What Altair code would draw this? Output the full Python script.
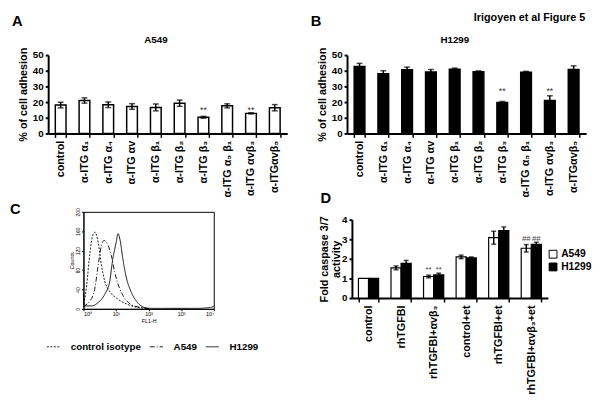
import altair as alt
import pandas as pd

FONT = "Liberation Sans"

# ---------------- Panels A / B : cell adhesion ----------------
conditions = ["control", "α-ITG α₁", "α-ITG α₄", "α-ITG αv", "α-ITG β₁",
              "α-ITG β₂", "α-ITG β₃", "α-ITG α₅ β₁", "α-ITG αvβ₃", "α-ITGαvβ₅"]
a549_adhesion = [18.1, 21.0, 18.3, 17.2, 16.6, 19.3, 10.3, 17.6, 12.8, 16.4]
a549_adhesion_err = [1.8, 1.7, 1.8, 1.8, 2.2, 2.0, 0.6, 1.3, 0.4, 2.0]
h1299_adhesion = [42.7, 38.1, 40.6, 39.2, 41.0, 39.4, 19.8, 39.0, 21.0, 40.8]
h1299_adhesion_err = [2.0, 1.9, 1.7, 1.6, 0.7, 0.5, 0.6, 0.6, 3.0, 2.3]
star_conditions = ["α-ITG β₃", "α-ITG αvβ₃"]
a549_star_y = [15.0, 15.0]
h1299_star_y = [27.0, 27.0]
adhesion_ticks = [0, 10, 20, 30, 40, 50]

# ---------------- Panel C : flow cytometry histograms ----------------
c_series = ["control isotype", "A549", "H1299"]
iso_fl = [1.0, 1.07, 1.26, 1.59, 1.91, 2.25, 2.83, 3.57, 4.5, 6.4, 11.4, 22.7, 45.5, 91.0]
iso_counts = [10, 16, 50, 117, 151, 158, 137, 90, 57, 36, 20, 9, 3, 1]
a549_fl = [1.0, 1.07, 1.59, 2.25, 2.83, 3.57, 4.3, 5.7, 7.15, 9.0, 12.7, 18.0, 28.7, 57.0, 100.0]
a549_counts = [4, 6, 16, 43, 90, 131, 141, 131, 110, 77, 43, 23, 9, 3, 1]
h1299_fl = [1.0, 1.03, 1.1, 1.78, 2.83, 4.5, 6.4, 8.0, 10.1, 11.4, 13.4, 16.1, 20.3,
            28.7, 45.5, 72.0, 100.0, 300.0, 1000.0, 3000.0, 8000.0, 10000.0]
h1299_counts = [33, 8, 6, 6, 13, 30, 57, 104, 137, 155, 141, 104, 67,
                36, 13, 3, 1, 1, 1, 1, 3, 5]
c_count_ticks = [0, 40, 80, 120, 160, 200]
c_fl_ticks = [1, 10, 100, 1000, 10000]

# ---------------- Panel D : caspase activity ----------------
d_conditions = ["control", "rhTGFBI", "rhTGFBI+αvβ₃", "control+et", "rhTGFBI+et", "rhTGFBI+αvβ₃+et"]
d_series = ["A549", "H1299"]
d_a549 = [1.0, 1.54, 1.1, 2.1, 3.08, 2.54]
d_a549_err = [0.0, 0.1, 0.07, 0.09, 0.33, 0.19]
d_h1299 = [1.0, 1.77, 1.18, 2.05, 3.44, 2.74]
d_h1299_err = [0.0, 0.15, 0.09, 0.05, 0.19, 0.11]
d_note_cond = ["rhTGFBI+αvβ₃", "rhTGFBI+αvβ₃", "rhTGFBI+αvβ₃+et", "rhTGFBI+αvβ₃+et"]
d_note_series = ["A549", "H1299", "A549", "H1299"]
d_note_text = ["**", "**", "##", "##"]
d_note_y = [1.42, 1.42, 3.0, 3.0]
d_ticks = [0, 1, 2, 3, 4]


def text_layer(txt, x, y, size, weight="bold", align="left", color="black"):
    return alt.Chart(pd.DataFrame({"t": [txt]})).mark_text(
        font=FONT, fontSize=size, fontWeight=weight, align=align, baseline="middle", color=color
    ).encode(text="t:N", x=alt.value(x), y=alt.value(y))


def adhesion_panel(vals, errs, fill, name, star_y, letter, extra=None):
    df = pd.DataFrame({
        "cond": conditions, "v": vals,
        "lo": [v - e for v, e in zip(vals, errs)],
        "hi": [v + e for v, e in zip(vals, errs)],
    })
    ytitle = "% of cell adhesion"
    x = alt.X("cond:N", sort=conditions, title=None,
              scale=alt.Scale(paddingInner=0.55, paddingOuter=0.3),
              axis=alt.Axis(labelAngle=-90, tickBand="extent", labelFont=FONT, labelFontSize=11,
                            labelFontWeight="bold", labelPadding=3, tickSize=4, tickWidth=1.5,
                            domainWidth=2, labelColor="black", domainColor="black", tickColor="black"))
    yscale = alt.Scale(domain=[0, 50], nice=False)
    yaxis = alt.Axis(values=adhesion_ticks, labelFont=FONT, labelFontSize=10, labelFontWeight="bold",
                     titleFont=FONT, titleFontSize=11, titleFontWeight="bold", tickSize=3, tickWidth=2,
                     domainWidth=2, grid=False, labelColor="black", titleColor="black",
                     domainColor="black", tickColor="black", labelPadding=2, titlePadding=4,
                     labelOverlap=False)

    def y(field):
        return alt.Y(field, scale=yscale, axis=yaxis, title=ytitle)

    base = alt.Chart(df)
    bars = base.mark_bar(fill=fill, stroke="black", strokeWidth=1.5).encode(x=x, y=y("v:Q"))
    err = base.mark_rule(color="black", strokeWidth=1.5).encode(x=x, y=y("lo:Q"), y2="hi:Q")
    cap_hi = base.mark_tick(color="black", thickness=1.5, size=6).encode(x=x, y=y("hi:Q"))
    cap_lo = base.mark_tick(color="black", thickness=1.5, size=6).encode(x=x, y=y("lo:Q"))
    stars = alt.Chart(pd.DataFrame({"cond": star_conditions, "y": star_y, "t": ["**", "**"]})).mark_text(
        font=FONT, fontSize=9, color="#333333").encode(x=x, y=y("y:Q"), text="t:N")
    layers = [bars, err, cap_hi, cap_lo, stars,
              text_layer(name, 110, -15, 10, align="center"),
              text_layer(letter, -37, -35, 15)]
    if extra is not None:
        layers.append(extra)
    return alt.layer(*layers).properties(width=244, height=80)


panel_a = adhesion_panel(a549_adhesion, a549_adhesion_err, "white", "A549", a549_star_y, "A")
panel_b = adhesion_panel(h1299_adhesion, h1299_adhesion_err, "black", "H1299", h1299_star_y, "B",
                         extra=text_layer("Irigoyen et al Figure 5", 243, -38, 11, align="right"))

# ---------------- Panel C ----------------
c_rows = []
for s, xs, ys in [("control isotype", iso_fl, iso_counts), ("A549", a549_fl, a549_counts),
                  ("H1299", h1299_fl, h1299_counts)]:
    for xv, yv in zip(xs, ys):
        c_rows.append({"series": s, "fl": xv, "cnt": yv})
c_df = pd.DataFrame(c_rows)

c_legend = alt.Legend(title=None, orient="none", legendX=-38, legendY=130,
                      direction="horizontal", symbolType="stroke",
                      symbolSize=182, symbolStrokeColor="black",
                      labelFont=FONT, labelFontSize=10,
                      labelFontWeight="bold", labelColor="black",
                      labelOffset=10, columnPadding=6)
sup = "['⁰','¹','²','³','⁴'][round(log(datum.value)/LN10)]"
panel_c = alt.Chart(c_df).mark_line(color="black", interpolate="monotone").encode(
    x=alt.X("fl:Q", scale=alt.Scale(type="log", domain=[1, 10000]),
            axis=alt.Axis(title="FL1-H", values=c_fl_ticks, labelExpr="'10' + " + sup,
                          labelFont=FONT, labelFontSize=5.5, titleFont=FONT, titleFontSize=5.5,
                          titleFontWeight="normal", tickSize=2, labelPadding=1, titlePadding=1,
                          grid=False, labelColor="black", titleColor="black",
                          domainColor="black", tickColor="black")),
    y=alt.Y("cnt:Q", scale=alt.Scale(domain=[0, 200]),
            axis=alt.Axis(title="Counts", values=c_count_ticks, labelAngle=-90, labelAlign="center",
                          labelBaseline="bottom", labelFont=FONT, labelFontSize=5, titleFont=FONT,
                          titleFontSize=5.5, titleFontWeight="normal", tickSize=2, labelPadding=1,
                          titlePadding=1, grid=False, labelColor="black", titleColor="black",
                          domainColor="black", tickColor="black")),
    strokeDash=alt.StrokeDash("series:N", sort=c_series,
                              scale=alt.Scale(domain=c_series, range=[[2, 1.5], [5, 2, 1, 2], [1, 0]]),
                              legend=c_legend),
    strokeWidth=alt.StrokeWidth("series:N", sort=c_series,
                                scale=alt.Scale(domain=c_series, range=[0.9, 0.9, 2.0]),
                                legend=c_legend),
).properties(width=133, height=99, view=alt.ViewBackground(stroke="black", strokeWidth=1))

spacer_c = text_layer("C", -39, -3, 15).properties(width=1, height=1)

# ---------------- Panel D ----------------
d_rows = []
for s, vals, errs in [("A549", d_a549, d_a549_err), ("H1299", d_h1299, d_h1299_err)]:
    for c, v, e in zip(d_conditions, vals, errs):
        d_rows.append({"cond": c, "series": s, "v": v, "lo": v - e, "hi": v + e})
d_df = pd.DataFrame(d_rows)
d_notes = pd.DataFrame({"cond": d_note_cond, "series": d_note_series, "t": d_note_text, "y": d_note_y})

dtitle = ["Fold caspase 3/7", "activity"]
dx = alt.X("cond:N", sort=d_conditions, title=None,
           scale=alt.Scale(paddingInner=0.38, paddingOuter=0.2),
           axis=alt.Axis(labelAngle=-90, tickBand="extent", labelFont=FONT, labelFontSize=11,
                         labelFontWeight="bold", labelPadding=3, tickSize=4, tickWidth=1.5,
                         domainWidth=2, labelColor="black", domainColor="black", tickColor="black"))
dxo = alt.XOffset("series:N", sort=d_series, scale=alt.Scale(domain=d_series, paddingInner=0, paddingOuter=0))
dys = alt.Scale(domain=[0, 4], nice=False)
dyaxis = alt.Axis(values=d_ticks, labelFont=FONT, labelFontSize=10, labelFontWeight="bold",
                  titleFont=FONT, titleFontSize=11, titleFontWeight="bold", tickSize=3, tickWidth=2,
                  domainWidth=2, grid=False, labelColor="black", titleColor="black",
                  domainColor="black", tickColor="black", labelPadding=2, titlePadding=0,
                  titleLineHeight=12, labelOverlap=False)


def dy(field):
    return alt.Y(field, scale=dys, axis=dyaxis, title=dtitle)


d_bars = alt.Chart(d_df).mark_bar(stroke="black", strokeWidth=1.2).encode(
    x=dx, xOffset=dxo, y=dy("v:Q"),
    fill=alt.Fill("series:N", sort=d_series, scale=alt.Scale(domain=d_series, range=["white", "black"]),
                  legend=alt.Legend(title=None, orient="none", legendX=200, legendY=30,
                                    symbolType="square", symbolSize=64, symbolStrokeColor="black",
                                    symbolStrokeWidth=1, labelFont=FONT, labelFontSize=10.5,
                                    labelFontWeight="bold", labelColor="black", rowPadding=0,
                                    labelOffset=3)))
d_err_base = alt.Chart(d_df).transform_filter("datum.hi > datum.lo")
d_err = d_err_base.mark_rule(color="black", strokeWidth=1.5).encode(
    x=dx, xOffset=dxo, y=dy("lo:Q"), y2="hi:Q")
d_cap_hi = d_err_base.mark_tick(color="black", thickness=1.5, size=5).encode(
    x=dx, xOffset=dxo, y=dy("hi:Q"))
d_cap_lo = d_err_base.mark_tick(color="black", thickness=1.5, size=5).encode(
    x=dx, xOffset=dxo, y=dy("lo:Q"))
d_txt = alt.Chart(d_notes).mark_text(font=FONT, fontSize=8, color="#444444").encode(
    x=dx, xOffset=dxo, y=dy("y:Q"), text="t:N")
panel_d = alt.layer(d_bars, d_err, d_cap_hi, d_cap_lo, d_txt).properties(width=200, height=80)

spacer_d = text_layer("D", -27, -22, 15).properties(width=1, height=1)

ind = dict(fill="independent", strokeDash="independent", strokeWidth="independent")
left_col = alt.vconcat(
    panel_a,
    alt.hconcat(spacer_c, panel_c, spacing=35, bounds="flush").resolve_scale(**ind),
    spacing=5,
).resolve_scale(**ind)
right_col = alt.vconcat(
    panel_b,
    alt.hconcat(spacer_d, panel_d, spacing=4, bounds="flush").resolve_scale(**ind),
    spacing=-6,
).resolve_scale(**ind)

chart = alt.hconcat(left_col, right_col, spacing=24).resolve_scale(**ind).properties(
    padding={"left": 2, "top": 0, "right": 0, "bottom": 0}
).configure(font=FONT).configure_view(stroke=None)

chart.save("out.html", embed_options={"renderer": "svg", "actions": False})
